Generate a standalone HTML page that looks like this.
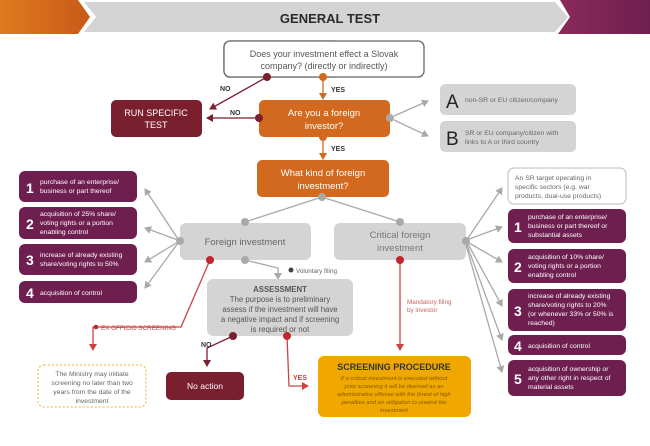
<!DOCTYPE html>
<html><head><meta charset="utf-8"><style>
body{margin:0;background:#fff;}
svg{display:block;font-family:"Liberation Sans",sans-serif;}
</style></head><body>
<svg width="650" height="446" viewBox="0 0 650 446" xmlns="http://www.w3.org/2000/svg">
<defs>
<linearGradient id="og" x1="0" x2="1"><stop offset="0" stop-color="#e07a20"/><stop offset="1" stop-color="#c85a18"/></linearGradient>
<linearGradient id="pg" x1="0" x2="1"><stop offset="0" stop-color="#8a2a5a"/><stop offset="1" stop-color="#6e1f50"/></linearGradient>
<marker id="ag" markerWidth="8" markerHeight="8" refX="6" refY="4" orient="auto" markerUnits="userSpaceOnUse"><path d="M0,0 L7,4 L0,8 Z" fill="#a9a9a9"/></marker>
<marker id="ar" markerWidth="8" markerHeight="8" refX="6" refY="4" orient="auto" markerUnits="userSpaceOnUse"><path d="M0,0 L7,4 L0,8 Z" fill="#d04040"/></marker>
<marker id="ad" markerWidth="8" markerHeight="8" refX="6" refY="4" orient="auto" markerUnits="userSpaceOnUse"><path d="M0,0 L7,4 L0,8 Z" fill="#7a1f2e"/></marker>
<marker id="ao" markerWidth="8" markerHeight="8" refX="6" refY="4" orient="auto" markerUnits="userSpaceOnUse"><path d="M0,0 L7,4 L0,8 Z" fill="#d2691e"/></marker>
</defs>
<polygon points="0,0 78,0 90,17 78,34 0,34" fill="url(#og)"/>
<polygon points="84,2 555,2 568,17 555,32 84,32 96,17" fill="#d4d4d4"/>
<polygon points="568,0 650,0 650,34 558,34 570,17 560,0" fill="url(#pg)"/>
<text x="330" y="23" text-anchor="middle" font-size="13" font-weight="bold" fill="#2a2a2a">GENERAL TEST</text>
<rect x="224" y="41" width="116" height="36" rx="6" fill="#fff" stroke="#666" stroke-width="1.3"/>
<rect x="224" y="41" width="200" height="36" rx="6" fill="#fff" stroke="#666" stroke-width="1.3"/>
<text x="324" y="57" text-anchor="middle" font-size="9" fill="#555">Does your investment effect a Slovak</text>
<text x="324" y="69" text-anchor="middle" font-size="9" fill="#555">company? (directly or indirectly)</text>
<line x1="267" y1="77" x2="210" y2="109" stroke="#7a1f2e" stroke-width="1.3" marker-end="url(#ad)"/>
<circle cx="267" cy="77" r="4" fill="#7a1f2e"/>
<line x1="323" y1="77" x2="323" y2="99" stroke="#d2691e" stroke-width="1.3" marker-end="url(#ao)"/>
<circle cx="323" cy="77" r="4" fill="#d2691e"/>
<text x="220" y="91" font-size="7" font-weight="bold" fill="#333">NO</text>
<text x="331" y="92" font-size="7" font-weight="bold" fill="#333">YES</text>
<rect x="111" y="100" width="91" height="37" rx="5" fill="#7a1f2e"/>
<text x="156" y="116" text-anchor="middle" font-size="9" fill="#fff">RUN SPECIFIC</text>
<text x="156" y="128" text-anchor="middle" font-size="9" fill="#fff">TEST</text>
<rect x="259" y="100" width="131" height="37" rx="5" fill="#d2691e"/>
<text x="324" y="116" text-anchor="middle" font-size="9.5" fill="#fff">Are you a foreign</text>
<text x="324" y="129" text-anchor="middle" font-size="9.5" fill="#fff">investor?</text>
<line x1="259" y1="118" x2="207" y2="118" stroke="#7a1f2e" stroke-width="1.3" marker-end="url(#ad)"/>
<circle cx="259" cy="118" r="4" fill="#7a1f2e"/>
<text x="230" y="115" font-size="7" font-weight="bold" fill="#333">NO</text>
<circle cx="390" cy="118" r="4" fill="#a9a9a9"/>
<line x1="394" y1="116" x2="428" y2="101" stroke="#a9a9a9" stroke-width="1.3" marker-end="url(#ag)"/>
<line x1="394" y1="120" x2="428" y2="136" stroke="#a9a9a9" stroke-width="1.3" marker-end="url(#ag)"/>
<line x1="323" y1="137" x2="323" y2="159" stroke="#d2691e" stroke-width="1.3" marker-end="url(#ao)"/>
<circle cx="323" cy="137" r="4" fill="#d2691e"/>
<text x="331" y="151" font-size="7" font-weight="bold" fill="#333">YES</text>
<rect x="440" y="84" width="136" height="31" rx="5" fill="#d4d4d4"/>
<text x="446" y="108" font-size="19" fill="#222">A</text>
<text x="465" y="102" font-size="6.8" fill="#666">non-SR or EU citizen/company</text>
<rect x="440" y="121" width="136" height="31" rx="5" fill="#d4d4d4"/>
<text x="446" y="145" font-size="19" fill="#222">B</text>
<text x="465" y="135" font-size="6.8" fill="#666">SR or EU company/citizen with</text>
<text x="465" y="144" font-size="6.8" fill="#666">links to A or third country</text>
<rect x="257" y="160" width="132" height="37" rx="5" fill="#d2691e"/>
<text x="323" y="176" text-anchor="middle" font-size="9.5" fill="#fff">What kind of foreign</text>
<text x="323" y="189" text-anchor="middle" font-size="9.5" fill="#fff">investment?</text>
<line x1="322" y1="197" x2="245" y2="222" stroke="#a9a9a9" stroke-width="1.3"/>
<line x1="322" y1="197" x2="400" y2="222" stroke="#a9a9a9" stroke-width="1.3"/>
<circle cx="322" cy="197" r="4" fill="#a9a9a9"/>
<rect x="180" y="223" width="131" height="37" rx="6" fill="#d4d4d4"/>
<text x="245" y="245" text-anchor="middle" font-size="9.5" fill="#666">Foreign investment</text>
<circle cx="245" cy="222" r="4" fill="#a9a9a9"/>
<circle cx="180" cy="241" r="4" fill="#a9a9a9"/>
<line x1="178" y1="239" x2="145" y2="189" stroke="#a9a9a9" stroke-width="1.3" marker-end="url(#ag)"/>
<line x1="178" y1="240" x2="145" y2="228" stroke="#a9a9a9" stroke-width="1.3" marker-end="url(#ag)"/>
<line x1="178" y1="242" x2="145" y2="262" stroke="#a9a9a9" stroke-width="1.3" marker-end="url(#ag)"/>
<line x1="178" y1="243" x2="145" y2="288" stroke="#a9a9a9" stroke-width="1.3" marker-end="url(#ag)"/>
<g font-size="6.8" fill="#fff">
<rect x="19" y="171" width="118" height="31" rx="6" fill="#6e1f50"/>
<text x="26" y="193" font-size="14" font-weight="bold">1</text>
<text x="40" y="184">purchase of an enterprise/</text><text x="40" y="193">business or part thereof</text>
<rect x="19" y="207" width="118" height="32" rx="6" fill="#6e1f50"/>
<text x="26" y="229" font-size="14" font-weight="bold">2</text>
<text x="40" y="216">acquisition of 25% share/</text><text x="40" y="225">voting rights or a portion</text><text x="40" y="234">enabling control</text>
<rect x="19" y="244" width="118" height="31" rx="6" fill="#6e1f50"/>
<text x="26" y="265" font-size="14" font-weight="bold">3</text>
<text x="40" y="257">increase of already existing</text><text x="40" y="266">share/voting rights to 50%</text>
<rect x="19" y="281" width="118" height="22" rx="6" fill="#6e1f50"/>
<text x="26" y="298" font-size="14" font-weight="bold">4</text>
<text x="40" y="295">acquisition of control</text>
</g>
<path d="M245,260 L278,268 L278,279" fill="none" stroke="#a9a9a9" stroke-width="1.3" marker-end="url(#ag)"/>
<circle cx="245" cy="260" r="4" fill="#a9a9a9"/>
<circle cx="291" cy="270" r="2.5" fill="#444"/>
<text x="296" y="273" font-size="6.3" fill="#666">Voluntary filing</text>
<path d="M210,260 L181,327 L93,327 L93,350" fill="none" stroke="#d04040" stroke-width="1.3" marker-end="url(#ar)"/>
<circle cx="210" cy="260" r="4" fill="#c0262d"/>
<circle cx="96" cy="327" r="2.3" fill="#c0262d"/>
<text x="101" y="330" font-size="6.3" fill="#d04040">EX OFFICIO SCREENING</text>
<rect x="38" y="365" width="108" height="42" rx="6" fill="#fff" stroke="#f0b030" stroke-width="1" stroke-dasharray="2,2"/>
<g font-size="6.8" fill="#666" text-anchor="middle">
<text x="92" y="376">The Ministry may initiate</text><text x="92" y="385">screening no later than two</text><text x="92" y="394">years from the date of the</text><text x="92" y="403">investment</text></g>
<rect x="207" y="279" width="146" height="57" rx="6" fill="#d4d4d4"/>
<g text-anchor="middle" fill="#555" font-size="7.8">
<text x="280" y="292" font-weight="bold">ASSESSMENT</text>
<text x="280" y="302">The purpose is to preliminary</text>
<text x="280" y="312">assess if the investment will have</text>
<text x="280" y="322">a negative impact and if screening</text>
<text x="280" y="332">is required or not</text></g>
<path d="M233,336 L207,348 L207,366" fill="none" stroke="#7a1f2e" stroke-width="1.3" marker-end="url(#ad)"/>
<circle cx="233" cy="336" r="4" fill="#7a1f2e"/>
<text x="201" y="347" font-size="7" font-weight="bold" fill="#333">NO</text>
<path d="M287,336 L289,386 L308,386" fill="none" stroke="#d04040" stroke-width="1.3" marker-end="url(#ar)"/>
<circle cx="287" cy="336" r="4" fill="#c0262d"/>
<text x="293" y="380" font-size="7" font-weight="bold" fill="#d04040">YES</text>
<rect x="166" y="372" width="78" height="28" rx="5" fill="#7a1f2e"/>
<text x="205" y="389" text-anchor="middle" font-size="8.5" fill="#fff">No action</text>
<rect x="334" y="223" width="132" height="37" rx="6" fill="#d4d4d4"/>
<text x="400" y="238" text-anchor="middle" font-size="9.5" fill="#777">Critical foreign</text>
<text x="400" y="251" text-anchor="middle" font-size="9.5" fill="#777">investment</text>
<circle cx="400" cy="222" r="4" fill="#a9a9a9"/>
<line x1="400" y1="260" x2="400" y2="350" stroke="#d04040" stroke-width="1.3" marker-end="url(#ar)"/>
<circle cx="400" cy="260" r="4" fill="#c0262d"/>
<text x="407" y="304" font-size="6.3" fill="#d06060">Mandatory filing</text>
<text x="407" y="312" font-size="6.3" fill="#d06060">by investor</text>
<rect x="318" y="356" width="153" height="61" rx="6" fill="#f0a800"/>
<text x="394" y="370" text-anchor="middle" font-size="9" font-weight="bold" fill="#333">SCREENING PROCEDURE</text>
<g text-anchor="middle" font-size="5.8" font-style="italic" fill="#8a5a00">
<text x="394" y="380">If a critical investment is executed without</text>
<text x="394" y="388">prior screening it will be deemed as an</text>
<text x="394" y="396">administrative offense with the threat of high</text>
<text x="394" y="404">penalties and an obligation to unwind the</text>
<text x="394" y="412">investment</text></g>
<circle cx="466" cy="241" r="4" fill="#a9a9a9"/>
<g stroke="#a9a9a9" stroke-width="1.3" marker-end="url(#ag)">
<line x1="468" y1="238" x2="502" y2="188"/>
<line x1="469" y1="239" x2="502" y2="227"/>
<line x1="469" y1="243" x2="502" y2="262"/>
<line x1="468" y1="244" x2="502" y2="306"/>
<line x1="467" y1="245" x2="502" y2="340"/>
<line x1="466" y1="245" x2="502" y2="372"/>
</g>
<rect x="508" y="168" width="118" height="36" rx="6" fill="#fff" stroke="#bbb" stroke-width="1"/>
<g font-size="6.8" fill="#666"><text x="515" y="180">An SR target operating in</text><text x="515" y="189">specific sectors (e.g. war</text><text x="515" y="198">products, dual-use products)</text></g>
<g font-size="6.8" fill="#fff">
<rect x="508" y="209" width="118" height="34" rx="6" fill="#6e1f50"/>
<text x="514" y="232" font-size="14" font-weight="bold">1</text>
<text x="528" y="219">purchase of an enterprise/</text><text x="528" y="228">business or part thereof or</text><text x="528" y="237">substantial assets</text>
<rect x="508" y="249" width="118" height="34" rx="6" fill="#6e1f50"/>
<text x="514" y="272" font-size="14" font-weight="bold">2</text>
<text x="528" y="259">acquisition of 10% share/</text><text x="528" y="268">voting rights or a portion</text><text x="528" y="277">enabling control</text>
<rect x="508" y="289" width="118" height="42" rx="6" fill="#6e1f50"/>
<text x="514" y="316" font-size="14" font-weight="bold">3</text>
<text x="528" y="298">increase of already existing</text><text x="528" y="307">share/voting rights to 20%</text><text x="528" y="316">(or whenever 33% or 50% is</text><text x="528" y="325">reached)</text>
<rect x="508" y="335" width="118" height="20" rx="6" fill="#6e1f50"/>
<text x="514" y="351" font-size="14" font-weight="bold">4</text>
<text x="528" y="348">acquisition of control</text>
<rect x="508" y="360" width="118" height="36" rx="6" fill="#6e1f50"/>
<text x="514" y="384" font-size="14" font-weight="bold">5</text>
<text x="528" y="371">acquisition of ownership or</text><text x="528" y="380">any other right in respect of</text><text x="528" y="389">material assets</text>
</g>
</svg>
</body></html>
